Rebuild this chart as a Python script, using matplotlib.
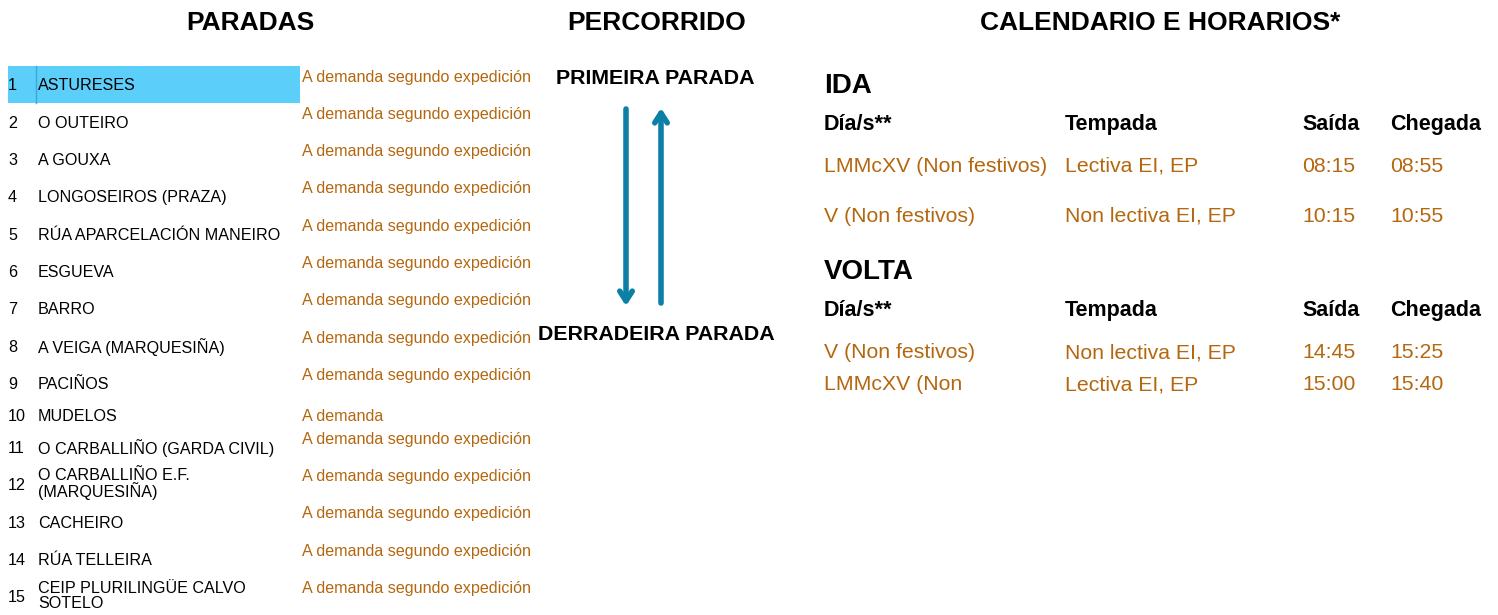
import matplotlib
matplotlib.use("Agg")
import matplotlib.pyplot as plt
from matplotlib.patches import Rectangle

plt.rcParams['font.family'] = ['Liberation Sans', 'DejaVu Sans']

# data
stop_names = ["ASTURESES", "O OUTEIRO", "A GOUXA", "LONGOSEIROS (PRAZA)",
              "RÚA APARCELACIÓN MANEIRO", "ESGUEVA", "BARRO",
              "A VEIGA (MARQUESIÑA)", "PACIÑOS", "MUDELOS",
              "O CARBALLIÑO (GARDA CIVIL)", "O CARBALLIÑO E.F.\n(MARQUESIÑA)",
              "CACHEIRO", "RÚA TELLEIRA", "CEIP PLURILINGÜE CALVO\nSOTELO"]
stop_notes = ["A demanda segundo expedición"] * 9 + ["A demanda"] + \
             ["A demanda segundo expedición"] * 5
cal_header = ["Día/s**", "Tempada", "Saída", "Chegada"]
ida_days = ["LMMcXV (Non festivos)", "V (Non festivos)"]
ida_season = ["Lectiva EI, EP", "Non lectiva EI, EP"]
ida_dep = ["08:15", "10:15"]
ida_arr = ["08:55", "10:55"]
volta_days = ["V (Non festivos)", "LMMcXV (Non"]
volta_season = ["Non lectiva EI, EP", "Lectiva EI, EP"]
volta_dep = ["14:45", "15:00"]
volta_arr = ["15:25", "15:40"]

# layout (pixels)
name_y = [84, 122, 159, 196, 234, 271, 308, 346, 383, 415, 447, 484, 522, 559, 596]
note_y = [76, 113, 150, 187, 225, 262, 299, 337, 374, 415, 438, 475, 512, 550, 587]
cal_x = [824, 1065, 1302, 1390]

orange = '#b4670f'
blue = '#0b7fa6'

fig = plt.figure(figsize=(14.98, 6.15), dpi=100)
ax = fig.add_axes([0, 0, 1, 1])
ax.set_xlim(0, 1498)
ax.set_ylim(615, 0)
ax.axis('off')

cb = 'center_baseline'

# titles
ax.text(250, 20, "PARADAS", ha='center', va=cb, fontsize=19, fontweight='bold')
ax.text(657, 20, "PERCORRIDO", ha='center', va=cb, fontsize=19, fontweight='bold')
ax.text(1160, 20, "CALENDARIO E HORARIOS*", ha='center', va=cb, fontsize=19, fontweight='bold')

# stops
ax.add_patch(Rectangle((8, 66), 292, 37, color='#5bcefa', lw=0))
ax.plot([36, 36], [66, 103], color='#3aa9d8', lw=1)
for i, (name, note) in enumerate(zip(stop_names, stop_notes)):
    ax.text(8, name_y[i], str(i + 1), ha='left', va=cb, fontsize=11.6)
    if "\n" in name:
        ax.text(38, name_y[i], name, ha='left', va='center', fontsize=11.6, linespacing=0.95)
    else:
        ax.text(38, name_y[i], name, ha='left', va=cb, fontsize=11.6)
    ax.text(302, note_y[i], note, ha='left', va=cb, fontsize=11.6, color=orange)

# route
ax.text(655, 76, "PRIMEIRA PARADA", ha='center', va=cb, fontsize=15.4, fontweight='bold')
ax.text(656, 332, "DERRADEIRA PARADA", ha='center', va=cb, fontsize=15.4, fontweight='bold')
ax.annotate("", xy=(626, 306), xytext=(626, 109),
            arrowprops=dict(arrowstyle='->, head_length=0.7, head_width=0.45', lw=4, color=blue,
                            shrinkA=0, shrinkB=0))
ax.annotate("", xy=(661, 108), xytext=(661, 303),
            arrowprops=dict(arrowstyle='->, head_length=0.7, head_width=0.45', lw=4, color=blue,
                            shrinkA=0, shrinkB=0))

# calendar
def cal_block(title, ty, hy, rows_y, days, season, dep, arr):
    ax.text(824, ty, title, ha='left', va=cb, fontsize=20, fontweight='bold')
    for x, h in zip(cal_x, cal_header):
        ax.text(x, hy, h, ha='left', va=cb, fontsize=15.5, fontweight='bold')
    for j, y in enumerate(rows_y):
        for x, v in zip(cal_x, [days[j], season[j], dep[j], arr[j]]):
            ax.text(x, y, v, ha='left', va=cb, fontsize=15.3, color=orange)

cal_block("IDA", 83, 122, [164, 214], ida_days, ida_season, ida_dep, ida_arr)
cal_block("VOLTA", 269, 308, [351, 383], volta_days, volta_season, volta_dep, volta_arr)

fig.savefig("out.png", dpi=100)
